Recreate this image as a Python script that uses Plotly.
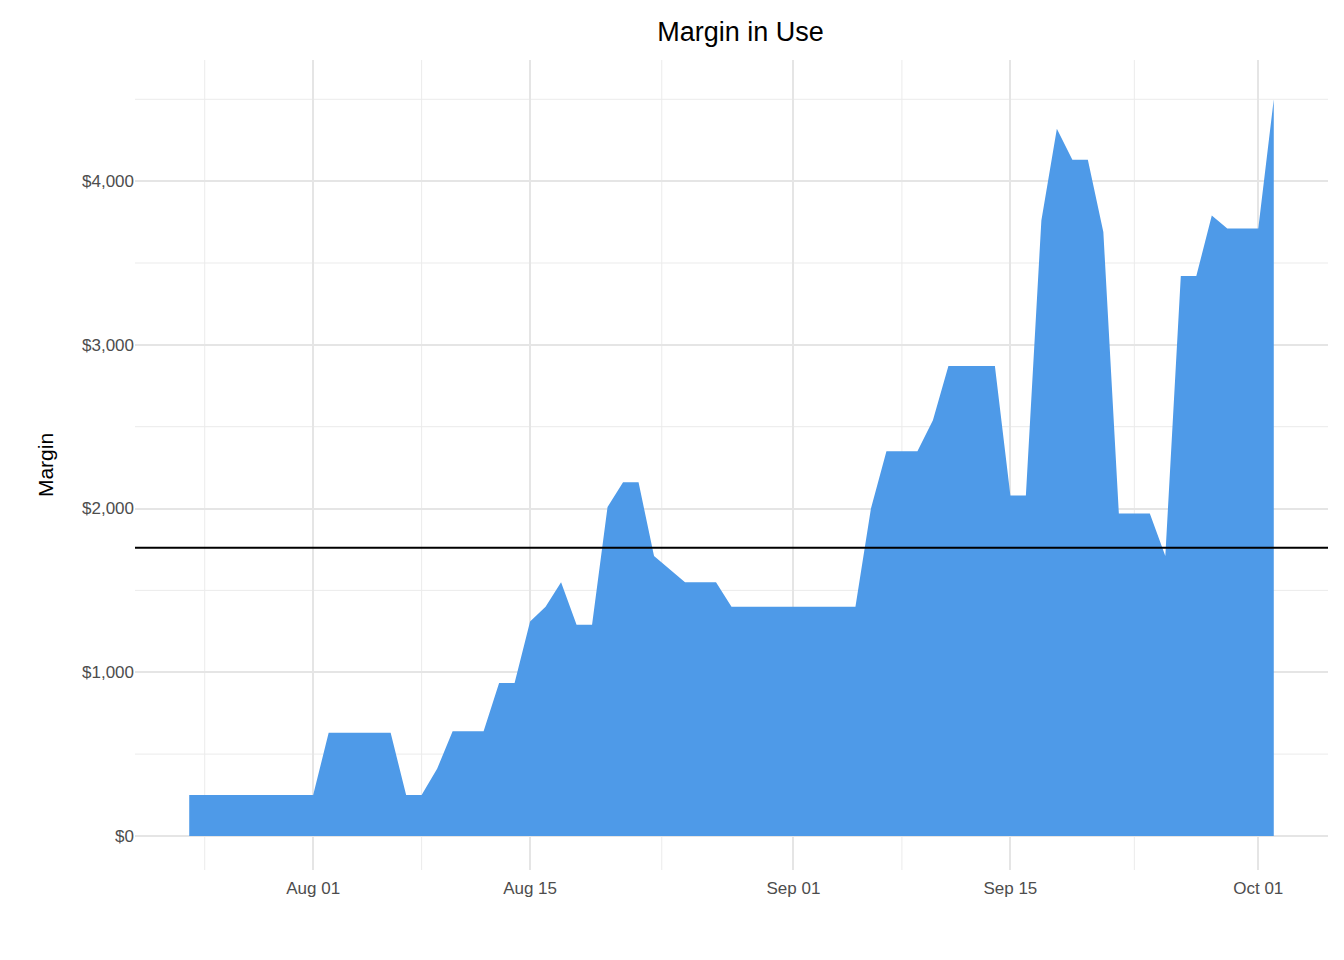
import pandas as pd
import plotly.graph_objects as go

start_date = "2019-07-24"
margin_values = (
    [250]*9 + [630]*5 + [250]*2 + [410] + [640]*3 + [935]*2 + [1310, 1400, 1550] +
    [1290]*2 + [2010] + [2160]*2 + [1710, 1630] + [1550]*3 + [1400]*9 + [2000] +
    [2350]*3 + [2540] + [2870]*4 + [2080]*2 + [3760, 4320] + [4130]*2 + [3690] +
    [1970]*3 + [1710] + [3420]*2 + [3790] + [3710]*3 + [4500]
)
dates = pd.date_range(start_date, periods=len(margin_values), freq="D")
ref_level = 1760
tick_dates = ["2019-08-01", "2019-08-15", "2019-09-01", "2019-09-15", "2019-10-01"]
tick_labels = ["Aug 01", "Aug 15", "Sep 01", "Sep 15", "Oct 01"]
minor_dates = ["2019-07-25", "2019-08-08", "2019-08-23 12:00", "2019-09-08", "2019-09-23"]
y_ticks = [0, 1000, 2000, 3000, 4000]
y_labels = ["$0", "$1,000", "$2,000", "$3,000", "$4,000"]
y_minor = [500, 1500, 2500, 3500, 4500]

fig = go.Figure()
fig.add_trace(go.Scatter(x=dates, y=margin_values, fill="tozeroy", mode="lines",
                         line=dict(width=0, color="#4E9AE8"), fillcolor="#4E9AE8",
                         showlegend=False))
shapes = []
for d in minor_dates:
    shapes.append(dict(type="line", xref="x", yref="paper", x0=d, x1=d, y0=0, y1=1,
                       line=dict(color="#EBEBEB", width=1), layer="below"))
for v in y_minor:
    shapes.append(dict(type="line", xref="paper", yref="y", x0=0, x1=1, y0=v, y1=v,
                       line=dict(color="#EBEBEB", width=1), layer="below"))
shapes.append(dict(type="line", xref="paper", yref="y", x0=0, x1=1, y0=ref_level, y1=ref_level,
                   line=dict(color="black", width=2)))
fig.update_layout(
    width=1344, height=960, plot_bgcolor="white", paper_bgcolor="white",
    margin=dict(l=127, r=24, t=52, b=98),
    title=dict(text="Margin in Use", x=0.545, y=0.985, yanchor="top", xanchor="center",
               font=dict(family="Liberation Sans, Arial", size=27, color="black")),
    font=dict(family="Liberation Sans, Arial"),
    shapes=shapes,
    xaxis=dict(range=["2019-07-20 12:00", "2019-10-05 12:00"], tickvals=tick_dates, ticktext=tick_labels,
               showgrid=True, gridcolor="#E5E5E5", gridwidth=2, zeroline=False,
               tickfont=dict(size=17, color="#4D4D4D"), ticks="", ticklabelstandoff=6),
    yaxis=dict(range=[-208, 4740], tickvals=y_ticks, ticktext=y_labels,
               showgrid=True, gridcolor="#E5E5E5", gridwidth=2, zeroline=False,
               tickfont=dict(size=17, color="#4D4D4D"), ticks="",
               title=dict(text="Margin", standoff=22, font=dict(size=21, color="black"))),
)
fig.write_html("out.html")
